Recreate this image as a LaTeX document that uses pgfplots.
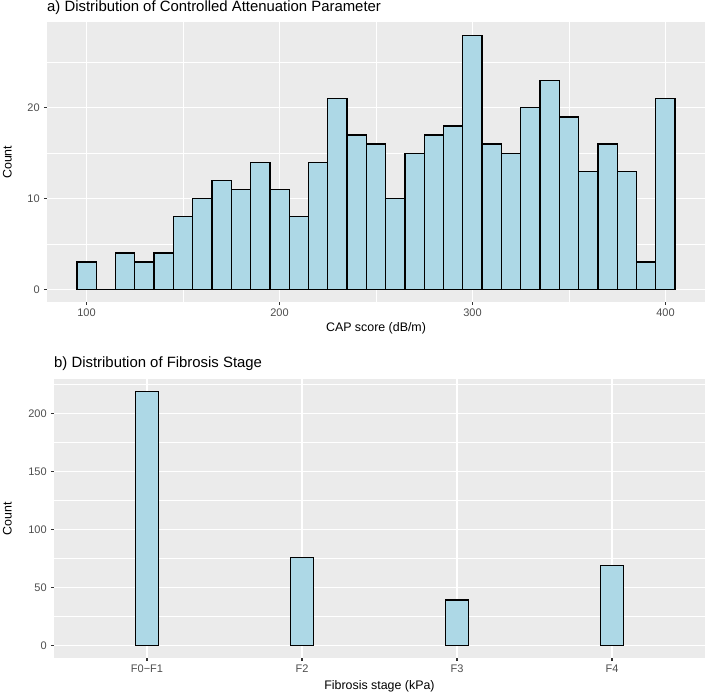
\documentclass[border=0pt]{standalone}
\usepackage{pgfplots}
\pgfplotsset{compat=1.18}
\usepackage{fontspec}
\setmainfont{Liberation Sans}
\definecolor{ggbg}{HTML}{EBEBEB}
\definecolor{barfill}{HTML}{ADD8E6}
\definecolor{grey30}{HTML}{4D4D4D}
\definecolor{grey20}{HTML}{333333}
\pgfplotsset{
  ggstyle/.style={
    scale only axis,
    anchor=south west,
    axis background/.style={fill=ggbg},
    axis line style={draw=none},
    grid=both,
    major grid style={white, line width=1.2pt},
    minor grid style={white, line width=0.6pt},
    tick align=outside,
    xtick pos=bottom,
    ytick pos=left,
    major tick length=3.1pt,
    minor tick length=0pt,
    tick style={grey20, line width=1.2pt},
    /pgf/number format/assume math mode=true,
    tick label style={font=\fontsize{11}{13}\selectfont, text=grey30},
    xticklabel style={inner sep=0pt, yshift=-4pt, anchor=north},
    yticklabel style={inner sep=0pt, xshift=-4pt, anchor=east},
    label style={font=\fontsize{12.4}{14}\selectfont, text=black},
    title style={font=\fontsize{14.9}{17}\selectfont, at={(axis description cs:0,1)}, anchor=base west, inner sep=0pt},
    clip=false,
  }
}
\begin{document}
\begin{tikzpicture}[x=1pt,y=1pt]
\useasboundingbox (0,0) rectangle (705,695);
% Top panel
\begin{axis}[ggstyle,
  at={(47pt,393pt)}, width=658pt, height=279.5pt,
  xmin=79.5, xmax=420.5, ymin=-1.4, ymax=29.4,
  xtick={100,200,300,400}, minor xtick={150,250,350},
  ytick={0,10,20}, minor ytick={5,15,25},
  title={a) Distribution of Controlled Attenuation Parameter},
  title style={yshift=4.5pt},
  xlabel={CAP score (dB/m)},
  xlabel style={at={(axis description cs:0.5,0)}, anchor=north, inner sep=0pt, yshift=-20pt},
  ylabel={Count},
  ylabel style={at={(axis description cs:-0.0532,0.5)}, anchor=south, inner sep=0pt},
]
\addplot[ybar interval, fill=barfill, draw=black, line width=1.3pt] coordinates {
(95,3) (105,0) (115,4) (125,3) (135,4) (145,8) (155,10) (165,12) (175,11) (185,14)
(195,11) (205,8) (215,14) (225,21) (235,17) (245,16) (255,10) (265,15) (275,17) (285,18)
(295,28) (305,16) (315,15) (325,20) (335,23) (345,19) (355,13) (365,16) (375,13) (385,3)
(395,21) (405,21)
};
\end{axis}
% Bottom panel
\begin{axis}[ggstyle,
  at={(54pt,37pt)}, width=651pt, height=279pt,
  xmin=0.4, xmax=4.6, ymin=-10.95, ymax=229.95,
  xtick={1,2,3,4}, xticklabels={F0\textminus F1,F2,F3,F4},
  minor xtick={},
  ytick={0,50,100,150,200}, minor ytick={25,75,125,175,225},
  title={b) Distribution of Fibrosis Stage},
  title style={yshift=5pt},
  xlabel={Fibrosis stage (kPa)},
  xlabel style={at={(axis description cs:0.5,0)}, anchor=north, inner sep=0pt, yshift=-22pt},
  ylabel={Count},
  ylabel style={at={(axis description cs:-0.0645,0.5)}, anchor=south, inner sep=0pt},
]
\addplot[ybar, bar width=0.15, fill=barfill, draw=black, line width=1.3pt] coordinates {
(1,219) (2,76) (3,39) (4,69)
};
\end{axis}
\end{tikzpicture}
\end{document}
